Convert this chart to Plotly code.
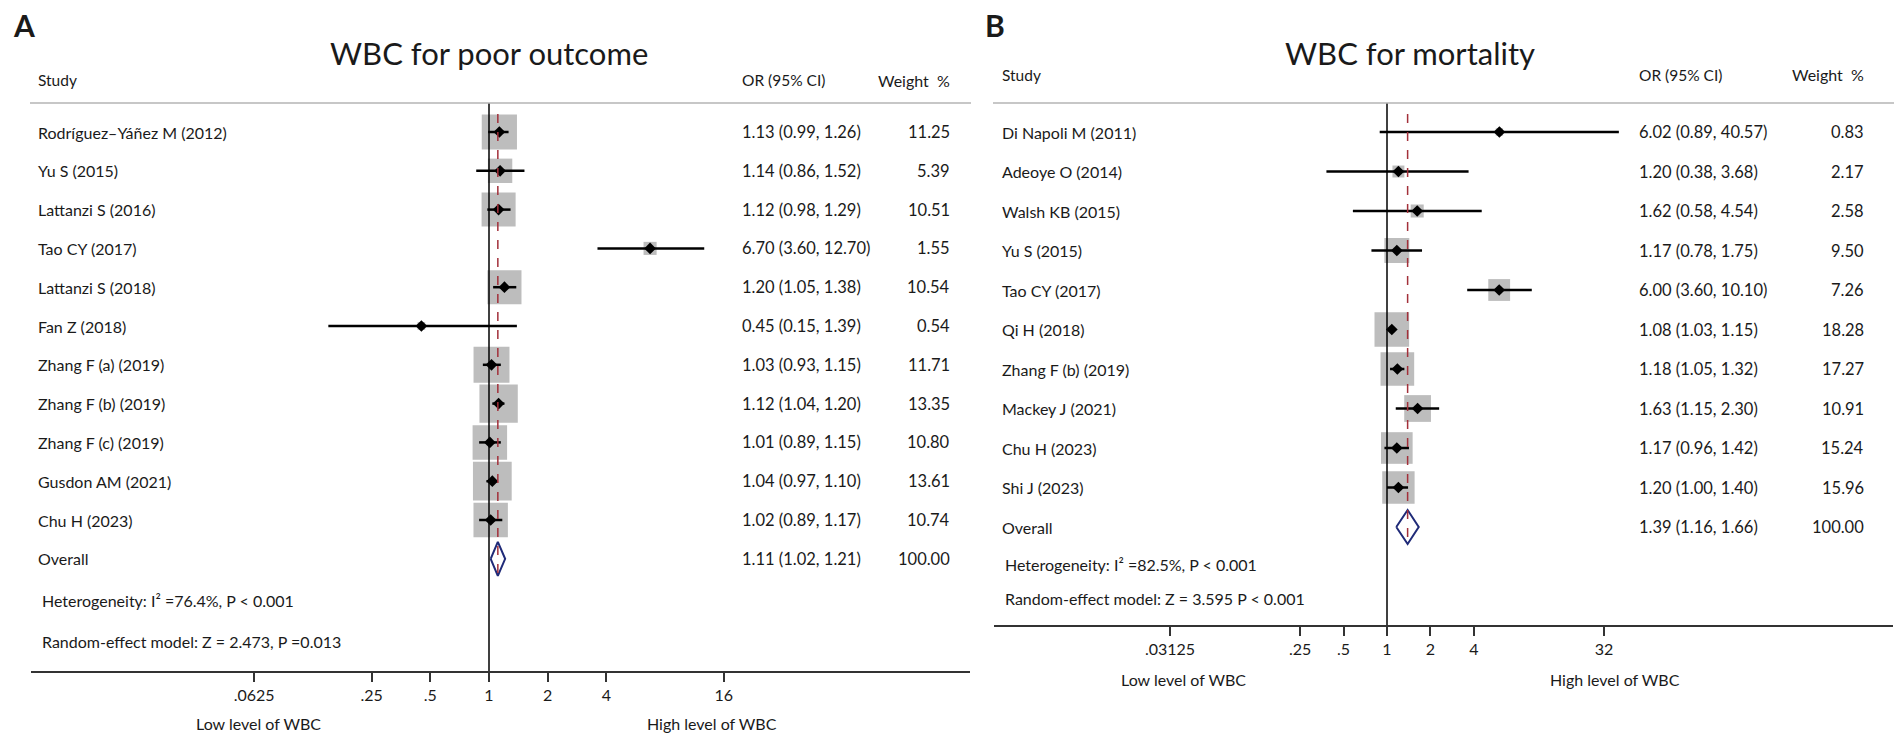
import math
import plotly.graph_objects as go

### panel A: WBC for poor outcome
studies_a = ["Rodríguez–Yáñez M (2012)", "Yu S (2015)", "Lattanzi S (2016)", "Tao CY (2017)",
             "Lattanzi S (2018)", "Fan Z (2018)", "Zhang F (a) (2019)", "Zhang F (b) (2019)",
             "Zhang F (c) (2019)", "Gusdon AM (2021)", "Chu H (2023)"]
or_a = [1.13, 1.14, 1.12, 6.70, 1.20, 0.45, 1.03, 1.12, 1.01, 1.04, 1.02]
lo_a = [0.99, 0.86, 0.98, 3.60, 1.05, 0.15, 0.93, 1.04, 0.89, 0.97, 0.89]
hi_a = [1.26, 1.52, 1.29, 12.70, 1.38, 1.39, 1.15, 1.20, 1.15, 1.10, 1.17]
wt_a = [11.25, 5.39, 10.51, 1.55, 10.54, 0.54, 11.71, 13.35, 10.80, 13.61, 10.74]
overall_a = [1.11, 1.02, 1.21]
overall_wt_a = 100.00
ticks_a = [0.0625, 0.25, 0.5, 1, 2, 4, 16]
ticktext_a = [".0625", ".25", ".5", "1", "2", "4", "16"]

### panel B: WBC for mortality
studies_b = ["Di Napoli M (2011)", "Adeoye O (2014)", "Walsh KB (2015)", "Yu S (2015)",
             "Tao CY (2017)", "Qi H (2018)", "Zhang F (b) (2019)", "Mackey J (2021)",
             "Chu H (2023)", "Shi J (2023)"]
or_b = [6.02, 1.20, 1.62, 1.17, 6.00, 1.08, 1.18, 1.63, 1.17, 1.20]
lo_b = [0.89, 0.38, 0.58, 0.78, 3.60, 1.03, 1.05, 1.15, 0.96, 1.00]
hi_b = [40.57, 3.68, 4.54, 1.75, 10.10, 1.15, 1.32, 2.30, 1.42, 1.40]
wt_b = [0.83, 2.17, 2.58, 9.50, 7.26, 18.28, 17.27, 10.91, 15.24, 15.96]
overall_b = [1.39, 1.16, 1.66]
overall_wt_b = 100.00
ticks_b = [0.03125, 0.25, 0.5, 1, 2, 4, 32]
ticktext_b = [".03125", ".25", ".5", "1", "2", "4", "32"]

W, H = 1902, 741
FONT = "Lato, 'Open Sans', sans-serif"
TXT = "#1a1a1a"


def px(x):
    return x / W


def py(y):
    return 1 - y / H


fig = go.Figure()
shapes = []
annots = []


def panel(k, studies, ors, los, his, wts, overall, overall_wt, tickvals, ticktext, title, letter,
          het, model, x_left, x_right, one_px, per_log2, axis_y, row0, step, box_k,
          col_study, col_or, col_wt, head_y, het_x, het_y, mod_y, lab_y, low_x, high_x,
          letter_x, title_x):
    xa = "x" if k == 1 else "x%d" % k
    ya = "y" if k == 1 else "y%d" % k
    n = len(studies)

    def row(pix):
        return (pix - row0) / step

    # log axis placed so that 1 sits where the reference puts it
    l2 = math.log10(2)
    lo_r = (x_left - one_px) / per_log2 * l2
    hi_r = (x_right - one_px) / per_log2 * l2
    xkey = "xaxis" if k == 1 else "xaxis%d" % k
    ykey = "yaxis" if k == 1 else "yaxis%d" % k
    fig.update_layout(**{
        xkey: dict(type="log", domain=[px(x_left), px(x_right)], range=[lo_r, hi_r],
                   anchor=ya, tickvals=tickvals, ticktext=ticktext, ticks="outside",
                   ticklen=9, tickwidth=1.5, tickcolor="#333", showline=True, linewidth=2,
                   linecolor="#333", showgrid=False, zeroline=False, fixedrange=True,
                   tickfont=dict(family=FONT, size=16, color=TXT)),
        ykey: dict(domain=[py(axis_y), 1], range=[row(axis_y), row(0)], anchor=xa,
                   visible=False, fixedrange=True),
    })

    # weight boxes (side ~ sqrt(weight)), converted from pixels to data units
    for o, w, i in zip(ors, wts, range(n)):
        half = box_k * w ** 0.5 / 2
        f = 2 ** (half / per_log2)
        shapes.append(dict(type="rect", xref=xa, yref=ya, x0=o / f, x1=o * f,
                           y0=i - half / step, y1=i + half / step,
                           fillcolor="#bdbdbd", line=dict(width=0), layer="below"))

    # confidence intervals
    cx, cy = [], []
    for i in range(n):
        cx += [los[i], his[i], None]
        cy += [i, i, None]
    fig.add_trace(go.Scatter(x=cx, y=cy, mode="lines", line=dict(color="black", width=2.5),
                             xaxis=xa, yaxis=ya, hoverinfo="skip", showlegend=False))
    fig.add_trace(go.Scatter(x=ors, y=list(range(n)), mode="markers",
                             marker=dict(symbol="diamond", size=9, color="black"),
                             xaxis=xa, yaxis=ya, showlegend=False))

    # overall diamond
    e, l, h = overall
    dh = 17 / step
    fig.add_trace(go.Scatter(x=[l, e, h, e, l], y=[n, n - dh, n, n + dh, n], mode="lines",
                             fill="toself", fillcolor="white", line=dict(color="#1f2a78", width=2),
                             xaxis=xa, yaxis=ya, hoverinfo="skip", showlegend=False))

    # null line and pooled estimate line
    shapes.append(dict(type="line", xref=xa, yref=ya, x0=1, x1=1, y0=row(103), y1=row(axis_y),
                       line=dict(color="black", width=1.5), layer="above"))
    shapes.append(dict(type="line", xref=xa, yref=ya, x0=e, x1=e, y0=row(114), y1=n + dh + 0.03,
                       line=dict(color="#a3303a", width=1.5, dash="dash"), layer="above"))

    # header rule
    shapes.append(dict(type="line", xref="paper", yref="paper", x0=px(x_left - 1),
                       x1=px(x_right + 1), y0=py(103), y1=py(103),
                       line=dict(color="#b5b5b5", width=1.5)))

    def txt(x, y, s, anchor="left", size=16, yref="paper"):
        annots.append(dict(x=px(x), y=(py(y) if yref == "paper" else y), xref="paper", yref=yref,
                           text=s, showarrow=False, xanchor=anchor, yanchor="middle",
                           font=dict(family=FONT, size=size, color=TXT)))

    txt(letter_x, 25, "<b>%s</b>" % letter, size=30)
    txt(title_x, 53, title, anchor="center", size=31)
    txt(col_study, head_y, "Study", size=15.5)
    txt(col_or, head_y, "OR (95% CI)", size=15.5)
    txt(col_wt, head_y, "Weight  %", anchor="right", size=16)
    for i in range(n):
        txt(col_study, i, studies[i], yref=ya)
        txt(col_or, i, "%.2f (%.2f, %.2f)" % (ors[i], los[i], his[i]), size=16.5, yref=ya)
        txt(col_wt, i, "%.2f" % wts[i], anchor="right", size=16.5, yref=ya)
    txt(col_study, n, "Overall", yref=ya)
    txt(col_or, n, "%.2f (%.2f, %.2f)" % (e, l, h), size=16.5, yref=ya)
    txt(col_wt, n, "%.2f" % overall_wt, anchor="right", size=16.5, yref=ya)
    txt(het_x, het_y, het, size=16)
    txt(het_x, mod_y, model, size=16)
    txt(low_x, lab_y, "Low level of WBC", anchor="center", size=16)
    txt(high_x, lab_y, "High level of WBC", anchor="center", size=16)


panel(1, studies_a, or_a, lo_a, hi_a, wt_a, overall_a, overall_wt_a, ticks_a, ticktext_a,
      "WBC for poor outcome", "A", "Heterogeneity: I² =76.4%, P < 0.001",
      "Random-effect model: Z = 2.473, P =0.013",
      x_left=31, x_right=970, one_px=489, per_log2=58.7, axis_y=671, row0=132, step=38.8,
      box_k=10.5, col_study=36, col_or=740, col_wt=952, head_y=80, het_x=40, het_y=600,
      mod_y=641, lab_y=723, low_x=258, high_x=712, letter_x=11, title_x=489)

panel(2, studies_b, or_b, lo_b, hi_b, wt_b, overall_b, overall_wt_b, ticks_b, ticktext_b,
      "WBC for mortality", "B", "Heterogeneity: I² =82.5%, P < 0.001",
      "Random-effect model: Z = 3.595 P < 0.001",
      x_left=994, x_right=1893, one_px=1387, per_log2=43.4, axis_y=625, row0=132, step=39.5,
      box_k=8.1, col_study=1000, col_or=1637, col_wt=1866, head_y=75, het_x=1003, het_y=564,
      mod_y=598, lab_y=679, low_x=1183, high_x=1615, letter_x=983, title_x=1410)

fig.update_layout(width=W, height=H, margin=dict(l=0, r=0, t=0, b=0),
                  paper_bgcolor="white", plot_bgcolor="white",
                  shapes=shapes, annotations=annots, showlegend=False,
                  font=dict(family=FONT, color=TXT))

fig.write_html("out.html", config={"displayModeBar": False},
               post_script="document.body.style.margin='0';")
